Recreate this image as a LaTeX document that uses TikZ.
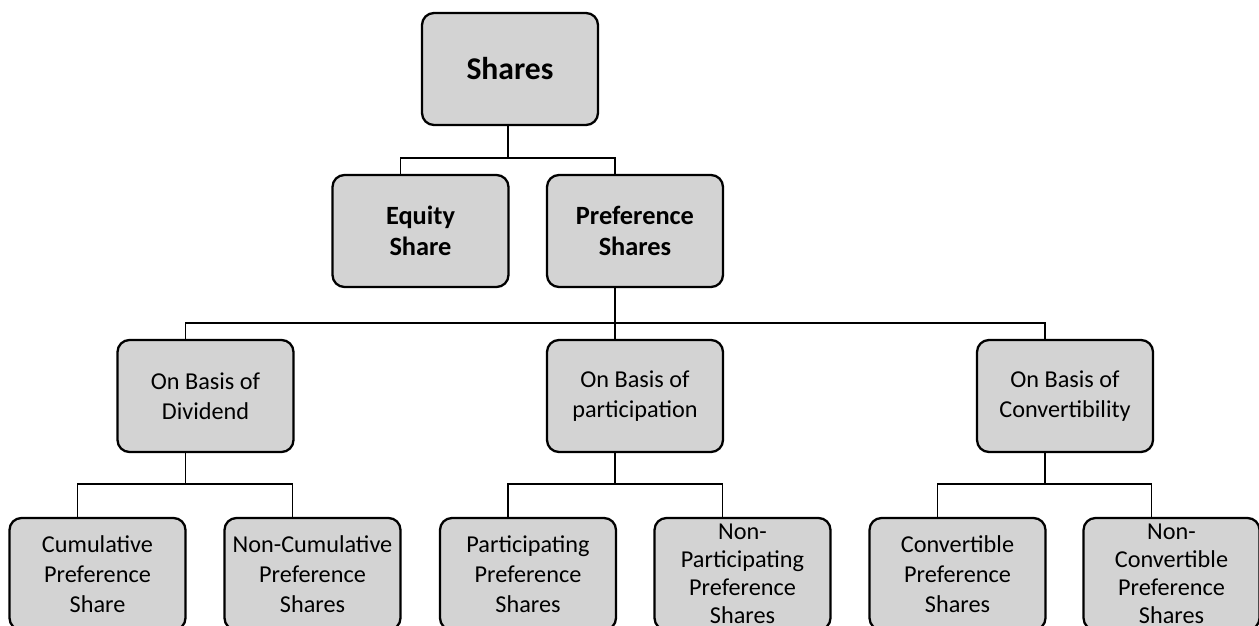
\documentclass[tikz,border=0pt]{standalone}
\usepackage{fontspec}
\setmainfont{Carlito}
\definecolor{boxgray}{RGB}{211,211,211}
\tikzset{
    box/.style={draw, line width=1.3pt, rounded corners=0.24cm, fill=boxgray,
        minimum width=3.52cm, minimum height=2.24cm, inner sep=0pt, align=center,
        font=\fontsize{13.8}{17}\selectfont},
    headbox/.style={box, font=\fontsize{18}{21}\selectfont\bfseries},
    kindbox/.style={box, font=\fontsize{15}{17.6}\selectfont\bfseries},
    link/.style={line width=1.1pt}
}
\begin{document}
\begin{tikzpicture}
    \useasboundingbox (0,0) rectangle (25.18,-12.5);
    % top
    \node[headbox] (shares) at (10.2,-1.38) {Shares};
    \node[kindbox] (equity) at (8.41,-4.62) {Equity\\Share};
    \node[kindbox] (prefs) at (12.7,-4.62) {Preference\\Shares};
    % bases
    \node[box] (div) at (4.11,-7.92) {On Basis of\\Dividend};
    \node[box] (part) at (12.7,-7.92) {On Basis of\\participation};
    \node[box] (conv) at (21.3,-7.92) {On Basis of\\Convertibility};
    % kinds of preference shares
    \node[box] (cum) at (1.95,-11.48) {Cumulative\\Preference\\Share};
    \node[box] (noncum) at (6.25,-11.48) {Non-Cumulative\\Preference\\Shares};
    \node[box] (parti) at (10.56,-11.48) {Participating\\Preference\\Shares};
    \node[box, font=\fontsize{13.8}{16}\selectfont] (nonparti) at (14.85,-11.48) {Non-\\Participating\\Preference\\Shares};
    \node[box] (convt) at (19.15,-11.48) {Convertible\\Preference\\Shares};
    \node[box, font=\fontsize{13.8}{16}\selectfont] (nonconvt) at (23.43,-11.48) {Non-\\Convertible\\Preference\\Shares};

    \draw[link] ([xshift=-0.04cm]shares.south) -- ++(0,-0.64) coordinate (j1);
    \draw[link] ([xshift=-0.4cm]equity.north) |- (j1) -| ([xshift=-0.4cm]prefs.north);

    \draw[link] ([xshift=-0.4cm]prefs.south) -- ++(0,-0.7) coordinate (j2);
    \draw[link] ([xshift=-0.4cm]div.north) |- (j2) -| ([xshift=-0.4cm]conv.north);
    \draw[link] (j2) -- ([xshift=-0.4cm]part.north);

    \foreach \p/\a/\b in {div/cum/noncum, part/parti/nonparti, conv/convt/nonconvt} {
        \draw[link] ([xshift=-0.4cm]\p.south) -- ++(0,-0.62) coordinate (j\p);
        \draw[link] ([xshift=-0.4cm]\a.north) |- (j\p) -| ([xshift=-0.4cm]\b.north);
    }
\end{tikzpicture}
\end{document}
